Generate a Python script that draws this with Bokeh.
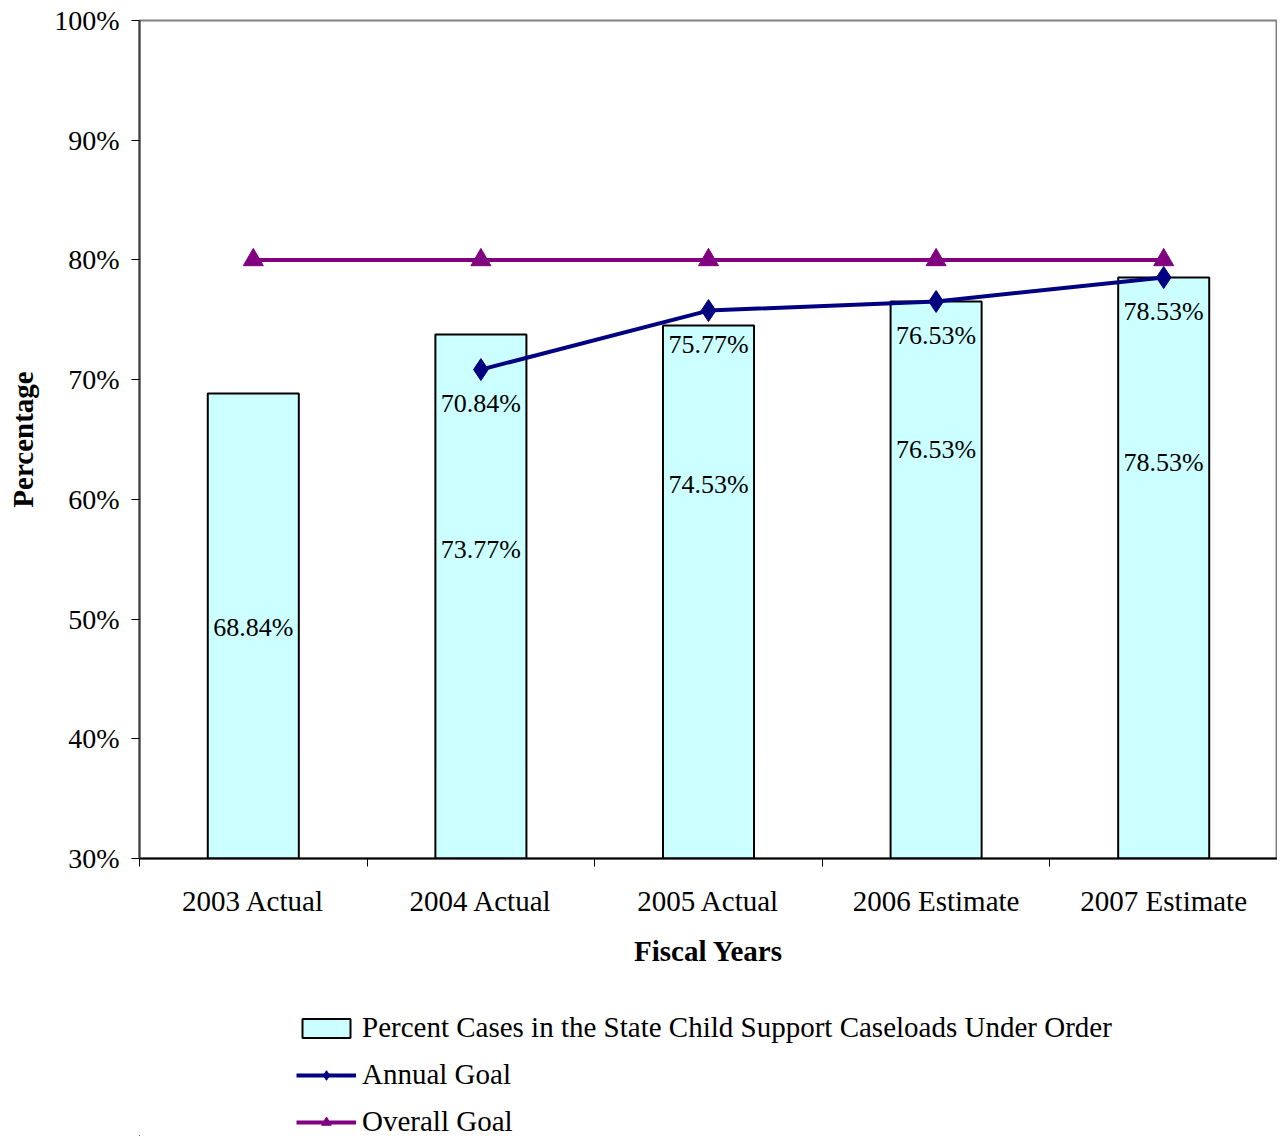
from bokeh.plotting import figure
from bokeh.layouts import column
from bokeh.models import Range1d, FixedTicker, Legend, LegendItem, ColumnDataSource
from bokeh.embed import file_html
from bokeh.resources import INLINE

# data
years = ["2003 Actual", "2004 Actual", "2005 Actual", "2006 Estimate", "2007 Estimate"]
cases_pct = [68.84, 73.77, 74.53, 76.53, 78.53]
cases_label_y = [49.3, 55.8, 61.2, 64.2, 63.1]   # where Excel put the bar labels
annual_goal = [None, 70.84, 75.77, 76.53, 78.53]
overall_goal = [80, 80, 80, 80, 80]
y_ticks = [30, 40, 50, 60, 70, 80, 90, 100]
series_names = ["Percent Cases in the State Child Support Caseloads Under Order",
                "Annual Goal", "Overall Goal"]

FONT = "Liberation Serif"
CYAN, NAVY, PURPLE = "#CCFFFF", "#000080", "#800080"

xc = [i + 0.5 for i in range(len(years))]
bars = ColumnDataSource(dict(x=xc, top=cases_pct, ly=cases_label_y,
                             lab=["%.2f%%" % v for v in cases_pct]))
ax = [x for x, v in zip(xc, annual_goal) if v is not None]
av = [v for v in annual_goal if v is not None]
annual = ColumnDataSource(dict(x=ax, y=av, lab=["%.2f%%" % v for v in av]))
overall = ColumnDataSource(dict(x=xc, y=overall_goal))


def draw_series(fig, tri=20, dia=22):
    rb = fig.vbar(x="x", top="top", bottom=30, width=0.4, source=bars,
                  fill_color=CYAN, line_color="black", line_width=2)
    rol = fig.line("x", "y", source=overall, line_color=PURPLE, line_width=4)
    rom = fig.scatter("x", "y", source=overall, marker="triangle", size=tri,
                      fill_color=PURPLE, line_color=PURPLE)
    ral = fig.line("x", "y", source=annual, line_color=NAVY, line_width=4)
    ram = fig.scatter("x", "y", source=annual, marker="diamond", size=dia,
                      fill_color=NAVY, line_color=NAVY)
    return rb, (ral, ram), (rol, rom)


p = figure(frame_width=1138, frame_height=838, output_backend="svg", toolbar_location=None,
           x_range=Range1d(0, len(years)), y_range=Range1d(30, 100))
p.min_border_left = 139
p.min_border_right = 0
p.min_border_top = 20
p.min_border_bottom = 120
p.xgrid.visible = False
p.ygrid.visible = False
p.outline_line_color = "#808080"
p.outline_line_width = 2

draw_series(p)
p.text(x="x", y="ly", text="lab", source=bars, text_align="center",
       text_baseline="middle", text_font=FONT, text_font_size="26px", text_color="black")
p.text(x="x", y="y", text="lab", source=annual, text_align="center",
       text_baseline="middle", y_offset=34, text_font=FONT, text_font_size="26px",
       text_color="black")

# x axis: labels at category centres, ticks at category boundaries
xa = p.xaxis[0]
xa.ticker = FixedTicker(ticks=xc, minor_ticks=list(range(len(years) + 1)))
xa.major_label_overrides = {x: y for x, y in zip(xc, years)}
xa.major_tick_out = 0
xa.major_tick_in = 0
xa.minor_tick_out = 8
xa.minor_tick_in = 0
xa.minor_tick_line_color = "black"
xa.axis_line_color = "black"
xa.axis_line_width = 2
xa.major_label_standoff = 18
xa.major_label_text_font = FONT
xa.major_label_text_font_size = "29px"
xa.major_label_text_color = "black"
xa.axis_label = "Fiscal Years"
xa.axis_label_text_font = FONT
xa.axis_label_text_font_style = "bold"
xa.axis_label_text_font_size = "29px"
xa.axis_label_text_color = "black"
xa.axis_label_standoff = 15

ya = p.yaxis[0]
ya.ticker = FixedTicker(ticks=y_ticks, minor_ticks=[])
ya.major_label_overrides = {v: "%d%%" % v for v in y_ticks}
ya.major_tick_out = 8
ya.major_tick_in = 0
ya.major_tick_line_color = "black"
ya.axis_line_color = "#404040"
ya.axis_line_width = 2
ya.major_label_standoff = 12
ya.major_label_text_font = FONT
ya.major_label_text_font_size = "28px"
ya.major_label_text_color = "black"
ya.axis_label = "Percentage"
ya.axis_label_text_font = FONT
ya.axis_label_text_font_style = "bold"
ya.axis_label_text_font_size = "29px"
ya.axis_label_text_color = "black"
ya.axis_label_standoff = 12

# legend strip under the chart; its frame lines up with the chart's frame and
# its ranges keep the (same) series far out of view, so only the legend keys show
LH = 158
lg = figure(width=p.frame_width + p.min_border_left, height=LH, output_backend="svg",
            toolbar_location=None, x_axis_type=None, y_axis_type=None,
            x_range=Range1d(1000, 1001), y_range=Range1d(1000, 1001))
lg.min_border = 0
lg.outline_line_color = None
lg.xgrid.visible = False
lg.ygrid.visible = False
k_bar, k_annual, k_overall = draw_series(lg)

legend = Legend(items=[
    LegendItem(label=series_names[0], renderers=[k_bar]),
    LegendItem(label=series_names[1], renderers=list(k_annual)),
    LegendItem(label=series_names[2], renderers=list(k_overall)),
], location=(157, -2), orientation="vertical")
legend.border_line_color = None
legend.background_fill_alpha = 0
legend.glyph_width = 60
legend.glyph_height = 24
legend.label_height = 26
legend.spacing = 14
legend.label_standoff = 6
legend.label_text_font = FONT
legend.label_text_font_size = "29px"
legend.label_text_color = "black"
legend.margin = 0
legend.padding = 2
lg.add_layout(legend, "center")

layout = column(p, lg, spacing=0)
open("out.html", "w").write(file_html(layout, INLINE))
